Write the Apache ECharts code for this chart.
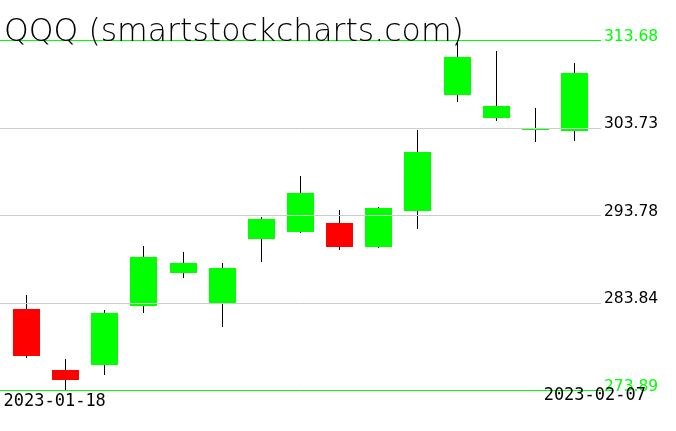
<!DOCTYPE html>
<html>
<head>
<meta charset="utf-8">
<script src="https://cdn.jsdelivr.net/npm/echarts@6/dist/echarts.min.js"></script>
<style>html,body{margin:0;padding:0;background:#fff}#c{width:676px;height:431px}</style>
</head>
<body>
<div id="c"></div>
<script>
const titleText = 'QQQ (smartstockcharts.com)';
const dates = ['2023-01-18','2023-01-19','2023-01-20','2023-01-23','2023-01-24','2023-01-25','2023-01-26','2023-01-27','2023-01-30','2023-01-31','2023-02-01','2023-02-02','2023-02-03','2023-02-06','2023-02-07'];
const opens  = [283.10, 276.16, 276.77, 283.47, 287.23, 283.70, 291.09, 291.89, 292.91, 290.15, 294.27, 307.43, 304.85, 303.50, 303.33];
const closes = [277.79, 275.06, 282.64, 289.01, 288.33, 287.76, 293.33, 296.29, 290.15, 294.58, 300.95, 311.75, 306.18, 303.62, 309.93];
const lows   = [277.56, 273.89, 275.63, 282.68, 286.66, 281.09, 288.48, 291.77, 289.84, 290.03, 292.23, 306.67, 304.51, 302.12, 302.23];
const highs  = [284.69, 277.41, 282.98, 290.26, 289.58, 288.33, 293.59, 298.22, 294.35, 294.69, 303.45, 313.68, 312.43, 305.95, 311.07];
const yTicks = [273.89, 283.84, 293.78, 303.73, 313.68];
const yTickLabels = ['273.89', '283.84', '293.78', '303.73', '313.68'];

const GREEN = '#00ff00', RED = '#ff0000', GRID = '#cccccc';
const yMin = yTicks[0], yMax = yTicks[yTicks.length - 1];

const candleData = dates.map((d, i) => [i, opens[i], closes[i], lows[i], highs[i]]);

const chart = echarts.init(document.getElementById('c'), null, {renderer: 'canvas'});
chart.setOption({
  animation: false,
  backgroundColor: '#ffffff',
  grid: [
    {left: 0, width: 601, top: 40.5, height: 350},
    {left: 6.93, width: 587.1, top: 40.5, height: 350}
  ],
  xAxis: [
    {gridIndex: 0, type: 'value', min: 0, max: 1, show: false},
    {gridIndex: 1, type: 'category', data: dates, show: false, boundaryGap: true}
  ],
  yAxis: [
    {gridIndex: 0, type: 'value', min: yMin, max: yMax, show: false, splitLine: {show: false}},
    {gridIndex: 1, type: 'value', min: yMin, max: yMax, show: false, splitLine: {show: false}}
  ],
  graphic: [
    {type: 'text', left: 4, top: 17, z: 10,
     style: {text: titleText, fontFamily: 'DejaVu Sans', fontWeight: 200, fontSize: 31.5, fill: '#000'}},
    {type: 'text', left: 3.5, top: 393, z: 10,
     style: {text: dates[0], fontFamily: 'DejaVu Sans Mono', fontSize: 17, fill: '#000'}},
    {type: 'text', right: 30, top: 387.5, z: 10,
     style: {text: dates[dates.length - 1], fontFamily: 'DejaVu Sans Mono', fontSize: 17, fill: '#000'}}
  ],
  series: [
    {
      type: 'custom',
      xAxisIndex: 1, yAxisIndex: 1,
      z: 2,
      data: candleData,
      renderItem: function (params, api) {
        const x = api.value(0);
        const o = api.value(1), c = api.value(2), l = api.value(3), h = api.value(4);
        const pO = api.coord([x, o]), pC = api.coord([x, c]);
        const pL = api.coord([x, l]), pH = api.coord([x, h]);
        const cx = pO[0];
        const bt = Math.round(Math.min(pO[1], pC[1]) - 0.5);
        let bb = Math.round(Math.max(pO[1], pC[1]) - 0.5);
        if (bb - bt < 1) bb = bt + 1;
        const wt = Math.round(pH[1] - 0.5);
        const wb = Math.round(pL[1] - 0.5);
        const col = c >= o ? GREEN : RED;
        return {
          type: 'group',
          children: [
            {type: 'rect', shape: {x: Math.round(cx - 0.5), y: wt, width: 1, height: wb - wt},
             style: {fill: '#000'}},
            {type: 'rect', shape: {x: Math.round(cx - 13.5), y: bt, width: 27, height: bb - bt},
             style: {fill: col}}
          ]
        };
      }
    },
    {
      type: 'line',
      xAxisIndex: 0, yAxisIndex: 0,
      data: [],
      z: 5,
      silent: true,
      markLine: {
        silent: true,
        symbol: 'none',
        animation: false,
        data: yTicks.map((v, i) => {
          const edge = (i === 0 || i === yTicks.length - 1);
          return {
            yAxis: v,
            lineStyle: {color: edge ? GREEN : GRID, width: 1, type: 'solid'},
            label: {
              show: true, position: 'end', distance: 3,
              formatter: yTickLabels[i],
              color: edge ? GREEN : '#000',
              fontFamily: 'DejaVu Sans', fontSize: 15.5,
              offset: [0, -4]
            }
          };
        })
      }
    }
  ]
});
</script>
</body>
</html>
